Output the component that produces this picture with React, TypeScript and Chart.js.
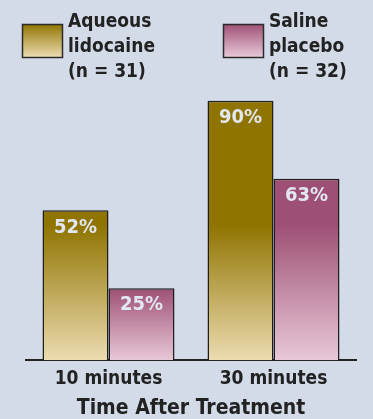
import React, { useEffect, useRef } from "react";
import { Chart, registerables } from "chart.js";

Chart.register(...registerables);

const categories = ["10 minutes", "30 minutes"];
const lidocaine = [52, 90];
const placebo = [25, 63];
const seriesNames = [["Aqueous", "lidocaine", "(n = 31)"], ["Saline", "placebo", "(n = 32)"]];
const axisTitle = "Time After Treatment";

const FONT = '"Liberation Sans Narrow", "DejaVu Sans Condensed", "Liberation Sans", sans-serif';
const BG = "#d4dbe8";
const GOLD = ["#8f7400", "#ecdcb0"];
const PINK = ["#9e5074", "#e8c8d8"];

function makeGrad(c: any, colors: string[]) {
  const chart = c.chart;
  const { ctx, chartArea, scales } = chart;
  if (!chartArea) return colors[0];
  const y = scales.y;
  const v = typeof c.raw === "number" ? c.raw : 48;
  const start = Math.min(v, 47);
  const g = ctx.createLinearGradient(0, y.getPixelForValue(start), 0, y.getPixelForValue(0));
  g.addColorStop(0, colors[0]);
  g.addColorStop(1, colors[1]);
  return g;
}

const labelPlugin = {
  id: "barLabels",
  afterDatasetsDraw(chart: any) {
    const ctx = chart.ctx;
    ctx.save();
    ctx.fillStyle = "#e2e6f0";
    ctx.font = `bold 20px ${FONT}`;
    ctx.textAlign = "center";
    ctx.textBaseline = "top";
    chart.data.datasets.forEach((ds: any, i: number) => {
      const meta = chart.getDatasetMeta(i);
      meta.data.forEach((bar: any, j: number) => {
        ctx.fillText(ds.data[j] + "%", bar.x, bar.y + 7);
      });
    });
    ctx.restore();
  },
};

const legendPlugin = {
  id: "customLegend",
  afterDraw(chart: any) {
    const ctx = chart.ctx;
    const items = [
      { sx: 22, colors: GOLD, lines: seriesNames[0] },
      { sx: 223, colors: PINK, lines: seriesNames[1] },
    ];
    ctx.save();
    items.forEach((it) => {
      const g = ctx.createLinearGradient(0, 24, 0, 57);
      g.addColorStop(0, it.colors[0]);
      g.addColorStop(1, it.colors[1]);
      ctx.fillStyle = g;
      ctx.fillRect(it.sx, 24, 40, 33);
      ctx.strokeStyle = "#2a2a2a";
      ctx.lineWidth = 1.5;
      ctx.strokeRect(it.sx + 0.5, 24.5, 40, 33);
      ctx.fillStyle = "#222";
      ctx.font = `bold 19px ${FONT}`;
      ctx.textAlign = "left";
      ctx.textBaseline = "middle";
      it.lines.forEach((l: string, k: number) => {
        ctx.fillText(l, it.sx + 46, 22 + k * 25);
      });
    });
    ctx.restore();
  },
};

export default function App() {
  const ref = useRef<HTMLCanvasElement>(null);
  useEffect(() => {
    document.body.style.margin = "0";
    const chart = new Chart(ref.current!, {
      type: "bar",
      data: {
        labels: categories,
        datasets: [
          {
            label: seriesNames[0].join(" "),
            data: lidocaine,
            backgroundColor: (c: any) => makeGrad(c, GOLD),
            borderColor: "#1e1e1e",
            borderWidth: 1.5,
            categoryPercentage: 0.8,
            barPercentage: 1.0,
          },
          {
            label: seriesNames[1].join(" "),
            data: placebo,
            backgroundColor: (c: any) => makeGrad(c, PINK),
            borderColor: "#1e1e1e",
            borderWidth: 1.5,
            categoryPercentage: 0.8,
            barPercentage: 1.0,
          },
        ],
      },
      options: {
        animation: false,
        responsive: false,
        maintainAspectRatio: false,
        layout: { padding: { left: 26, right: 17, top: 72, bottom: 0 } },
        plugins: { legend: { display: false }, tooltip: { enabled: false } },
        scales: {
          y: { display: false, min: 0, max: 100 },
          x: {
            grid: { display: false, drawTicks: false },
            border: { display: true, color: "#222", width: 2 },
            ticks: { color: "#222", font: { family: FONT, size: 19, weight: "bold" }, padding: 7 },
            title: {
              display: true,
              text: axisTitle,
              color: "#222",
              font: { family: FONT, size: 21, weight: "bold", lineHeight: 1 },
              padding: { top: 1, bottom: 0 },
            },
          },
        },
      },
      plugins: [labelPlugin, legendPlugin],
    });
    return () => chart.destroy();
  }, []);
  return (
    <div style={{ width: 373, height: 419, background: BG }}>
      <canvas ref={ref} width={373} height={419} style={{ display: "block" }} />
    </div>
  );
}
